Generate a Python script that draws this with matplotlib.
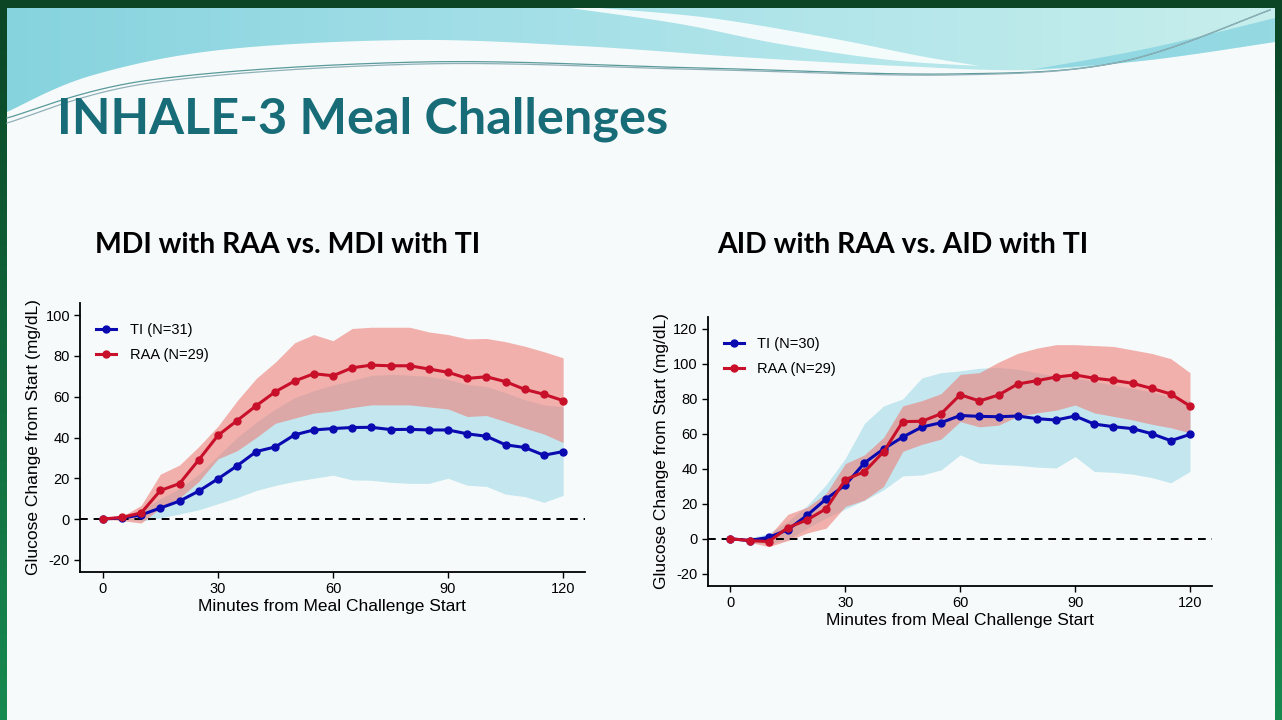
import numpy as np
import matplotlib
matplotlib.use("Agg")
import matplotlib.pyplot as plt
from matplotlib.patches import Polygon, Rectangle
from matplotlib.colors import LinearSegmentedColormap

# ---------------- data ----------------
minutes = [0, 5, 10, 15, 20, 25, 30, 35, 40, 45, 50, 55, 60, 65, 70, 75, 80, 85, 90, 95, 100, 105, 110, 115, 120]

# MDI panel
mdi_ti = [0, 0.5, 2, 5.4, 8.8, 13.7, 19.7, 26.1, 33.1, 35.4, 41.3, 43.7, 44.4, 44.9, 45.0, 43.9, 44.0, 43.7, 43.7, 41.8, 40.6, 36.4, 35.1, 31.3, 33.1]
mdi_ti_lo = [0, 0, -1, 0.5, 2.5, 4.5, 7.5, 10.5, 14, 16.5, 18.5, 20, 21.5, 19.2, 19, 18, 17.5, 17.5, 20, 16.6, 16, 12.2, 11, 8.2, 11.6]
mdi_ti_hi = [0, 1, 4, 10, 15, 22, 31, 40, 47.5, 54, 59.5, 63, 65.7, 68, 70.5, 71, 70.6, 70, 68.5, 66, 65, 62, 58.5, 56, 55]
mdi_raa = [0, 0.8, 3, 14, 17.4, 29, 41, 48.3, 55.6, 62.5, 67.7, 71.3, 70.3, 74.2, 75.5, 75.2, 75.2, 73.6, 72, 69, 69.8, 67.4, 63.6, 61.2, 58.1]
mdi_raa_lo = [0, -0.8, -2, 5.4, 10.3, 18.4, 29.5, 33.5, 40, 47, 49.5, 52, 53, 54.7, 56, 56, 56, 55, 54, 50.3, 50.8, 47.8, 44.6, 41.7, 37.5]
mdi_raa_hi = [0, 1.3, 6.7, 22, 26.5, 35.5, 45.5, 58, 69, 77, 86.5, 90.5, 87.5, 93.5, 94.1, 94.1, 94.1, 91.8, 90.5, 88.4, 88.6, 87, 84.8, 82.1, 79.1]

# AID panel
aid_ti = [0, -1, 0.8, 5.2, 13.4, 22.8, 30.8, 43.4, 51.4, 58.2, 63.9, 66.4, 70.5, 70.0, 69.8, 70.2, 68.7, 67.9, 70.2, 65.6, 64.1, 63.0, 60.1, 56.1, 59.7]
aid_ti_lo = [0, -2, -3, -0.5, 6, 12, 17, 22, 28, 36, 36.5, 39.4, 48, 43.3, 42.5, 42, 41, 40.5, 47, 38.5, 38, 37, 35, 32, 38.5]
aid_ti_hi = [0, 0.5, 3, 10, 19, 31, 46, 66, 76, 80, 92, 95, 96, 97.5, 98, 97, 95, 93, 92, 90, 88, 86, 84, 81, 79]
aid_raa = [0, -1, -1.6, 6.4, 10.8, 17.2, 33.8, 38.4, 49.8, 67, 67.2, 71.5, 82.4, 78.8, 82.2, 88.5, 90.4, 92.5, 93.7, 91.8, 90.6, 88.9, 86, 82.8, 75.9]
aid_raa_lo = [0, -2, -4.5, -1, 3.3, 6.1, 18.5, 22.2, 30, 50, 54, 57, 67, 64, 65, 70, 72, 73.5, 76.5, 72, 70, 68, 65.5, 63.5, 60.6]
aid_raa_hi = [0, 0.5, 1.5, 14, 18, 26, 43, 48, 58, 76, 79, 83, 94, 95, 101, 106, 109, 111, 111, 110.5, 110, 108, 106, 103, 95]

legend_mdi = ["TI (N=31)", "RAA (N=29)"]
legend_aid = ["TI (N=30)", "RAA (N=29)"]
panel_titles = ["MDI with RAA vs. MDI with TI", "AID with RAA vs. AID with TI"]
main_title = "INHALE-3 Meal Challenges"
x_ticks = [0, 30, 60, 90, 120]
y_ticks_mdi = [-20, 0, 20, 40, 60, 80, 100]
y_ticks_aid = [-20, 0, 20, 40, 60, 80, 100, 120]
x_label = "Minutes from Meal Challenge Start"
y_label = "Glucose Change from Start (mg/dL)"

# ---------------- style ----------------
W, H = 1282, 720
BLUE = "#0a0ab0"
RED = "#c8102a"
BLUE_BAND = "#c3e6ef"
RED_BAND = "#ee7f78"
TEAL = "#176c78"

plt.rcParams["font.family"] = ["Liberation Sans", "DejaVu Sans"]
plt.rcParams["axes.unicode_minus"] = False

fig = plt.figure(figsize=(W / 100, H / 100), dpi=100)
fig.patch.set_facecolor("#0b4526")

# ---------------- slide background / decoration ----------------
bg = fig.add_axes([0, 0, 1, 1], zorder=0)
bg.set_xlim(0, W)
bg.set_ylim(H, 0)
bg.axis("off")


def catmull(pts, n=40):
    pts = np.asarray(pts, float)
    p = np.vstack([pts[0], pts, pts[-1]])
    out = []
    for i in range(1, len(p) - 2):
        p0, p1, p2, p3 = p[i - 1], p[i], p[i + 1], p[i + 2]
        for s in np.linspace(0, 1, n, endpoint=False):
            out.append(0.5 * ((2 * p1) + (-p0 + p2) * s + (2 * p0 - 5 * p1 + 4 * p2 - p3) * s * s
                              + (-p0 + 3 * p1 - 3 * p2 + p3) * s ** 3))
    out.append(p[-2])
    return np.array(out)


# slide
bg.add_patch(Rectangle((7, 8), W - 14, H - 8, facecolor="#f6fafa", edgecolor="none", zorder=0))
side = LinearSegmentedColormap.from_list("side", ["#0b4526", "#178a50"])
vgrad = np.linspace(0, 1, 256)[:, None]
bg.imshow(vgrad, extent=(0, 7, H, 8), cmap=side, aspect="auto", zorder=0.5)
bg.imshow(vgrad, extent=(W - 7, W, H, 8), cmap=side, aspect="auto", zorder=0.5)

lower = catmull([(7, 112), (90, 76), (220, 50), (410, 40), (580, 46), (740, 57), (900, 66),
                 (1030, 70), (1150, 60), (1275, 42)])
wave_poly = np.vstack([[(7, 8)], lower, [(1275, 8)]])
wave = Polygon(wave_poly, closed=True, facecolor="none", edgecolor="none")
bg.add_patch(wave)
grad = np.linspace(0, 1, 256)[None, :]
cmap = LinearSegmentedColormap.from_list("wave", ["#86d3de", "#9fdde6", "#b3e6ea", "#c7eeec"])
im = bg.imshow(grad, extent=(7, 1275, 120, 8), cmap=cmap, aspect="auto", zorder=1)
im.set_clip_path(wave)

# white swoosh
sw_top = catmull([(600, 8), (710, 18), (830, 38), (920, 56), (980, 66)])
sw_bot = catmull([(980, 66), (890, 60), (780, 44), (680, 24), (570, 8)])
bg.add_patch(Polygon(np.vstack([sw_top, sw_bot]), closed=True, facecolor="white",
                     edgecolor="none", alpha=0.85, zorder=2))
# right darker streak
st_top = catmull([(1030, 70), (1150, 48), (1275, 18)])
st_bot = catmull([(1275, 42), (1150, 60), (1030, 70)])
bg.add_patch(Polygon(np.vstack([st_top, st_bot]), closed=True, facecolor="#6cc9dc",
                     edgecolor="none", alpha=0.55, zorder=2))
# thin lines
for off, col in [(0, "#5a9a9a"), (5, "#8fb0b8")]:
    ln = catmull([(7, 118 + off), (150, 80 + off * 0.6), (420, 62 + off * 0.4), (700, 68 + off * 0.3),
                  (950, 74 + off * 0.2), (1120, 62), (1270, 10)])
    bg.plot(ln[:, 0], ln[:, 1], color=col, lw=0.9, zorder=3)

# ---------------- titles ----------------
renderer = fig.canvas.get_renderer()


def fit_width(t, target):
    for _ in range(3):
        bb = t.get_window_extent(renderer=renderer)
        t.set_fontsize(t.get_fontsize() * target / bb.width)


TITLE_FONT = ["Lato", "Open Sans", "DejaVu Sans"]
tt = fig.text(57 / W, 1 - 133 / H, main_title, fontsize=40, fontweight="bold", color=TEAL,
              family=TITLE_FONT, ha="left", va="baseline")
fit_width(tt, 613)

st1 = fig.text(95 / W, 1 - 253 / H, panel_titles[0], fontsize=20, fontweight="bold", color="black",
               family=TITLE_FONT, ha="left", va="baseline")
fit_width(st1, 388)
st2 = fig.text(717 / W, 1 - 253 / H, panel_titles[1], fontsize=20, fontweight="bold", color="black",
               family=TITLE_FONT, ha="left", va="baseline")
fit_width(st2, 371)


# ---------------- panels ----------------
def panel(rect, ti, ti_lo, ti_hi, raa, raa_lo, raa_hi, ylim, yticks, labels, leg_anchor):
    ax = fig.add_axes(rect, zorder=5)
    ax.patch.set_alpha(0)
    ax.fill_between(minutes, ti_lo, ti_hi, color=BLUE_BAND, lw=0, zorder=1)
    ax.fill_between(minutes, raa_lo, raa_hi, color=RED_BAND, alpha=0.6, lw=0, zorder=2)
    ax.axhline(0, color="black", ls=(0, (4, 3)), lw=1.4, zorder=3)
    ax.plot(minutes, ti, color=BLUE, lw=2.2, marker="o", ms=5, zorder=4, label=labels[0])
    ax.plot(minutes, raa, color=RED, lw=2.2, marker="o", ms=5, zorder=5, label=labels[1])
    ax.set_xlim(-6, 125.7)
    ax.set_ylim(*ylim)
    ax.set_xticks(x_ticks)
    ax.set_yticks(yticks)
    for s in ["top", "right"]:
        ax.spines[s].set_visible(False)
    for s in ["left", "bottom"]:
        ax.spines[s].set_linewidth(1.3)
    ax.tick_params(labelsize=10.5, length=4, width=1, colors="black", pad=3)
    ax.set_xlabel(x_label, fontsize=12.5, labelpad=2)
    ax.set_ylabel(y_label, fontsize=12.5, labelpad=3)
    ax.legend(loc="upper left", bbox_to_anchor=leg_anchor, frameon=False, fontsize=10.5,
              handlelength=1.4, handletextpad=0.9, labelspacing=0.75, borderaxespad=0.3)
    return ax


ax1 = panel([79.8 / W, 1 - 572 / H, (585 - 79.8) / W, (572 - 303) / H],
            mdi_ti, mdi_ti_lo, mdi_ti_hi, mdi_raa, mdi_raa_lo, mdi_raa_hi,
            (-26, 106), y_ticks_mdi, legend_mdi, (0.012, 0.962))
ax2 = panel([707.5 / W, 1 - 586 / H, (1211.8 - 707.5) / W, (586 - 316.7) / H],
            aid_ti, aid_ti_lo, aid_ti_hi, aid_raa, aid_raa_lo, aid_raa_hi,
            (-27, 127), y_ticks_aid, legend_aid, (0.012, 0.962))

fig.savefig("out.png", dpi=100, facecolor=fig.get_facecolor())
